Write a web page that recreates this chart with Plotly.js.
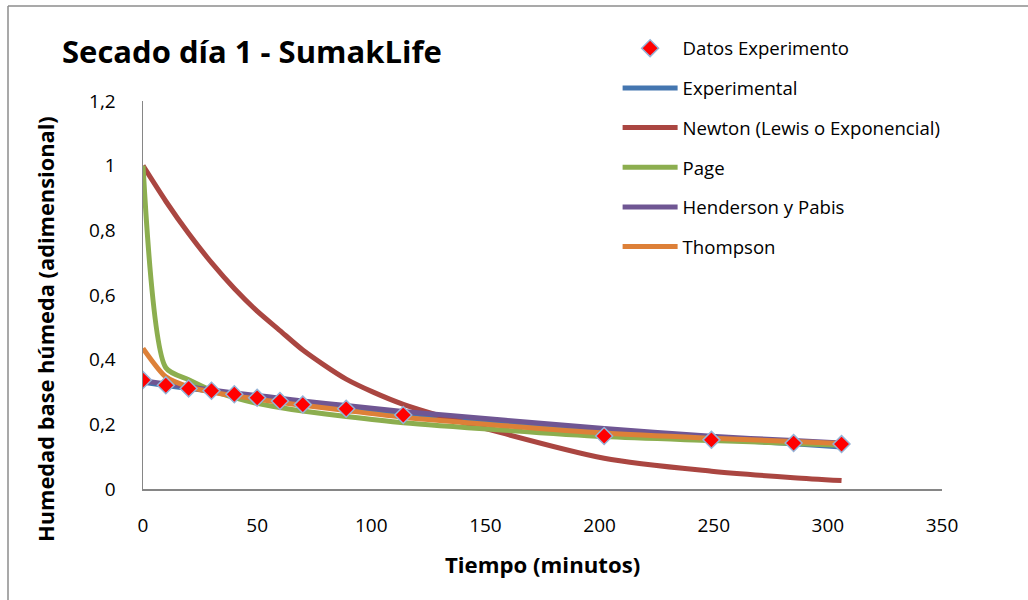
<!DOCTYPE html>
<html>
<head>
<meta charset="utf-8">
<script src="https://cdn.plot.ly/plotly-3.0.1.min.js"></script>
<style>
  html, body { margin: 0; padding: 0; background: #fff; }
  #chart { width: 1028px; height: 600px; }
</style>
</head>
<body>
<div id="chart"></div>
<script>
// Drying curve, day 1: measured moisture ratio and four fitted models
const tiempo = [0, 10, 20, 30, 40, 50, 60, 70, 89, 114, 202, 249, 285, 306];

const datosExperimento = [0.337, 0.321, 0.311, 0.304, 0.293, 0.282, 0.272, 0.261, 0.248, 0.229, 0.164, 0.152, 0.142, 0.139];
const experimental     = [0.330, 0.320, 0.311, 0.302, 0.293, 0.284, 0.276, 0.268, 0.253, 0.235, 0.180, 0.155, 0.140, 0.130];
const newton           = [1.000, 0.890, 0.790, 0.700, 0.620, 0.550, 0.490, 0.430, 0.340, 0.262, 0.095, 0.055, 0.035, 0.026];
const page             = [1.000, 0.375, 0.338, 0.305, 0.283, 0.265, 0.252, 0.241, 0.224, 0.205, 0.162, 0.150, 0.141, 0.135];
const henderson        = [0.335, 0.325, 0.316, 0.306, 0.297, 0.289, 0.281, 0.272, 0.258, 0.240, 0.187, 0.163, 0.150, 0.142];
const thompson         = [0.435, 0.347, 0.316, 0.300, 0.288, 0.278, 0.268, 0.259, 0.243, 0.222, 0.173, 0.157, 0.147, 0.141];

const yTicks = [0, 0.2, 0.4, 0.6, 0.8, 1, 1.2];
const xTicks = [0, 50, 100, 150, 200, 250, 300, 350];

const FONT = '"Open Sans", Lato, sans-serif';

function modelLine(name, y, color, rank) {
  return {
    type: 'scatter', mode: 'lines', name: name, x: tiempo, y: y,
    line: { color: color, width: 5, shape: 'spline', smoothing: 0.7 },
    legendgroup: name, legendrank: rank, hoverinfo: 'skip'
  };
}

const traces = [
  modelLine('Experimental', experimental, '#4476B0', 2),
  modelLine('Newton (Lewis o Exponencial)', newton, '#AA4641', 3),
  modelLine('Page', page, '#8CAE4F', 4),
  modelLine('Henderson y Pabis', henderson, '#6F5693', 5),
  modelLine('Thompson', thompson, '#DD8038', 6),
  {
    type: 'scatter', mode: 'markers', name: 'Datos Experimento',
    x: tiempo, y: datosExperimento,
    marker: { symbol: 'diamond', size: 13, color: '#FF0000',
              line: { color: '#95B3D7', width: 1.5 } },
    legendgroup: 'datos', legendrank: 1, hoverinfo: 'skip'
  }
];

const axisCommon = {
  showgrid: false, zeroline: false, showline: true,
  linecolor: '#868686', linewidth: 1.5, ticks: '',
  tickfont: { family: FONT, size: 19, color: '#000' }
};

const layout = {
  width: 1028, height: 600,
  margin: { l: 143, r: 86, t: 101, b: 111 },
  paper_bgcolor: '#fff', plot_bgcolor: '#fff',
  separators: ', ',
  showlegend: true,
  font: { family: FONT, color: '#000' },
  title: {
    text: '<b>Secado día 1 - SumakLife</b>',
    font: { family: FONT, size: 31, color: '#000' },
    x: 62 / 1028, xanchor: 'left', xref: 'container',
    y: 1 - 52 / 600, yanchor: 'middle', yref: 'container'
  },
  xaxis: Object.assign({}, axisCommon, {
    range: [0, 350], tickvals: xTicks, ticklabelstandoff: 19
  }),
  yaxis: Object.assign({}, axisCommon, {
    range: [0, 1.2], tickvals: yTicks, ticklabelstandoff: 22
  }),
  legend: {
    x: 0.594, xanchor: 'left', y: 1.184, yanchor: 'top',
    traceorder: 'grouped', tracegroupgap: 12.5,
    itemwidth: 55,
    font: { family: FONT, size: 18.6, color: '#000' },
    bgcolor: 'rgba(0,0,0,0)'
  },
  annotations: [
    {
      text: '<b>Humedad base húmeda (adimensional)</b>',
      xref: 'paper', yref: 'paper', x: (45 - 143) / 799, y: (489 - 329) / 388,
      xanchor: 'center', yanchor: 'middle', textangle: -90, showarrow: false,
      font: { family: FONT, size: 21.8, color: '#000' }
    },
    {
      text: '<b>Tiempo (minutos)</b>',
      xref: 'paper', yref: 'paper', x: (542 - 143) / 799, y: (489 - 564) / 388,
      xanchor: 'center', yanchor: 'middle', showarrow: false,
      font: { family: FONT, size: 22.2, color: '#000' }
    }
  ],
  shapes: [
    { type: 'line', xref: 'paper', yref: 'paper',
      x0: (8 - 143) / 799, x1: (1028 - 143) / 799,
      y0: (489 - 6) / 388, y1: (489 - 6) / 388,
      line: { color: '#8C8C8C', width: 1.5 } },
    { type: 'line', xref: 'paper', yref: 'paper',
      x0: (8 - 143) / 799, x1: (8 - 143) / 799,
      y0: (489 - 6) / 388, y1: (489 - 600) / 388,
      line: { color: '#8C8C8C', width: 1.5 } }
  ]
};

Plotly.newPlot('chart', traces, layout, { displayModeBar: false, staticPlot: true });
</script>
</body>
</html>
